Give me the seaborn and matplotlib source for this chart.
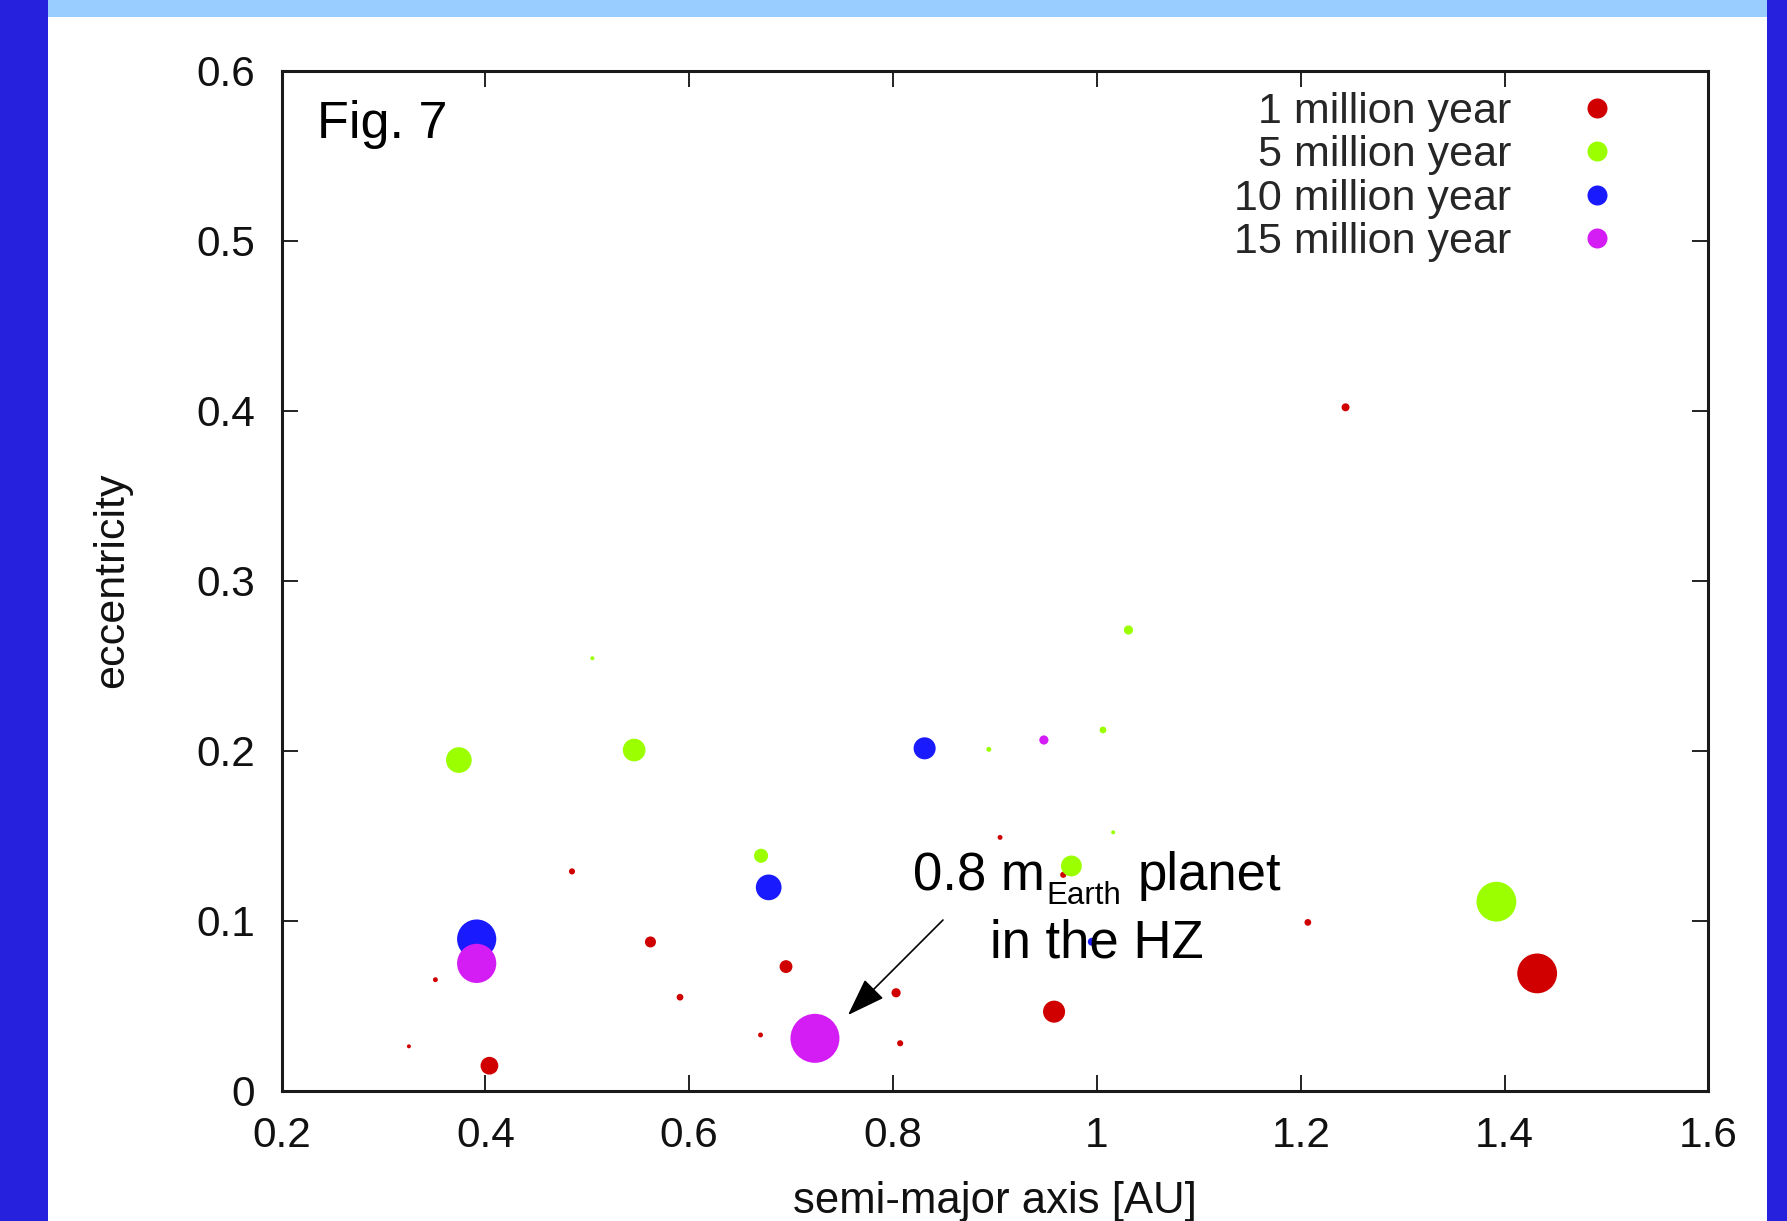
import numpy as np
import pandas as pd
import matplotlib
matplotlib.use("Agg")
import matplotlib.pyplot as plt
from matplotlib.lines import Line2D
from matplotlib.patches import Rectangle
from matplotlib.transforms import IdentityTransform
import seaborn as sns

# ---------------- data ----------------
series_labels = ["1 million year", "5 million year", "10 million year", "15 million year"]
series_colors = ["#D00000", "#9CFF00", "#1A1AFF", "#D41CF5"]

# 1 million year
a_1myr = [1.244, 0.905, 0.485, 0.562, 0.695, 1.207, 1.432, 0.958, 0.803, 0.591,
          0.351, 0.325, 0.404, 0.670, 0.807, 0.967]
e_1myr = [0.402, 0.149, 0.129, 0.0875, 0.073, 0.099, 0.069, 0.0465, 0.0576, 0.055,
          0.0653, 0.0261, 0.0147, 0.0328, 0.0279, 0.127]
m_1myr = [0.13, 0.08, 0.10, 0.18, 0.21, 0.11, 0.65, 0.36, 0.15, 0.11,
          0.08, 0.065, 0.29, 0.08, 0.10, 0.10]

# 5 million year
a_5myr = [0.374, 0.546, 0.505, 1.031, 1.006, 0.894, 1.016, 0.6705, 0.975, 1.392]
e_5myr = [0.1945, 0.2004, 0.2544, 0.271, 0.2122, 0.2008, 0.152, 0.1382, 0.1322, 0.1112]
m_5myr = [0.42, 0.37, 0.065, 0.15, 0.11, 0.08, 0.065, 0.23, 0.34, 0.65]

# 10 million year
a_10myr = [0.831, 0.678, 0.3915, 0.995]
e_10myr = [0.2014, 0.1196, 0.0892, 0.0876]
m_10myr = [0.36, 0.42, 0.64, 0.13]

# 15 million year
a_15myr = [0.948, 0.3915, 0.7234]
e_15myr = [0.2063, 0.0749, 0.0308]
m_15myr = [0.15, 0.64, 0.80]

x_ticks = [0.2, 0.4, 0.6, 0.8, 1.0, 1.2, 1.4, 1.6]
x_tick_labels = ["0.2", "0.4", "0.6", "0.8", "1", "1.2", "1.4", "1.6"]
y_ticks = [0.0, 0.1, 0.2, 0.3, 0.4, 0.5, 0.6]
y_tick_labels = ["0", "0.1", "0.2", "0.3", "0.4", "0.5", "0.6"]

# ---------------- build table ----------------
frames = []
for lab, a, e, m in zip(series_labels,
                        [a_1myr, a_5myr, a_10myr, a_15myr],
                        [e_1myr, e_5myr, e_10myr, e_15myr],
                        [m_1myr, m_5myr, m_10myr, m_15myr]):
    frames.append(pd.DataFrame({"a": a, "e": e, "mass": m, "epoch": lab}))
df = pd.concat(frames, ignore_index=True)

palette = dict(zip(series_labels, series_colors))
# marker diameter proportional to mass
def marker_area(m):
    return (m / 0.8 * 49 * 0.72) ** 2
size_map = {m: marker_area(m) for m in sorted(df["mass"].unique())}

# ---------------- style ----------------
sns.set_style("ticks")
plt.rcParams["font.family"] = ["Liberation Sans", "DejaVu Sans"]

W, H = 1787, 1221
fig = plt.figure(figsize=(W / 100, H / 100), dpi=100, facecolor="white")

# slide decorations
fig.add_artist(Rectangle((0, 0), 48 / W, 1, transform=fig.transFigure,
                         facecolor="#2521DD", edgecolor="none", zorder=-5))
fig.add_artist(Rectangle((1767 / W, 0), 1 - 1767 / W, 1, transform=fig.transFigure,
                         facecolor="#2521DD", edgecolor="none", zorder=-5))
fig.add_artist(Rectangle((48 / W, 1 - 17 / H), (1767 - 48) / W, 17 / H,
                         transform=fig.transFigure, facecolor="#99CCFF",
                         edgecolor="none", zorder=-5))

ax_l, ax_r, ax_t, ax_b = 281.5, 1708.4, 70.7, 1090.7
ax = fig.add_axes([ax_l / W, 1 - ax_b / H, (ax_r - ax_l) / W, (ax_b - ax_t) / H])

sns.scatterplot(data=df, x="a", y="e", hue="epoch", hue_order=series_labels,
                palette=palette, size="mass", sizes=size_map, legend=False,
                linewidth=0, edgecolor="none", alpha=1, ax=ax, zorder=3)

ax.set_xlim(0.2, 1.6)
ax.set_ylim(0.0, 0.6)
ax.set_xticks(x_ticks)
ax.set_xticklabels(x_tick_labels)
ax.set_yticks(y_ticks)
ax.set_yticklabels(y_tick_labels)
ax.tick_params(axis="both", direction="in", length=11.5, width=1.4,
               top=True, right=True, labelsize=30.5, color="#222222",
               labelcolor="#111111")
ax.tick_params(axis="x", pad=18)
ax.tick_params(axis="y", pad=19)
for sp in ax.spines.values():
    sp.set_linewidth(2.2)
    sp.set_color("#1a1a1a")

ax.set_xlabel("semi-major axis [AU]", fontsize=31.5, color="#111111")
ax.xaxis.set_label_coords(0.5, -0.0885)
ax.set_ylabel("eccentricity", fontsize=31, color="#111111")
ax.yaxis.set_label_coords(-0.1048, 0.5)

# figure tag
ax.text(0.0249, 0.934, "Fig. 7", transform=ax.transAxes, fontsize=37.5,
        ha="left", va="baseline", color="black")

# annotation arrow
ax.annotate("", xy=(0.7558, 0.0445), xytext=(0.849, 0.1004),
            arrowprops=dict(arrowstyle="-|>,head_length=0.8,head_width=0.28",
                            mutation_scale=30, lw=1.2, color="black",
                            shrinkA=0, shrinkB=0), zorder=6)

# annotation text: "0.8 m_Earth planet" with a small lowered subscript
renderer = fig.canvas.get_renderer()
fs_main, fs_sub = 38, 22.5
parts = [("0.8 m", fs_main, 0.0), ("Earth", fs_sub, -14.0), ("planet", fs_main, 0.0)]
gaps = [2.0, 16.0]
tmp = []
widths = []
for s, fs, dy in parts:
    t = ax.text(0, 0, s, fontsize=fs, transform=IdentityTransform(),
                ha="left", va="baseline", color="black", zorder=7)
    widths.append(t.get_window_extent(renderer).width)
    tmp.append(t)
total = sum(widths) + sum(gaps)
cx, cy = ax.transData.transform((1.0, 0.118))
x0 = cx - total / 2
for i, (t, (s, fs, dy)) in enumerate(zip(tmp, parts)):
    t.set_position((x0, cy + dy))
    x0 += widths[i] + (gaps[i] if i < len(gaps) else 0)

ax.text(1.0, 0.0786, "in the HZ", fontsize=38, ha="center", va="baseline",
        color="black", zorder=7)

# legend
handles = [Line2D([], [], marker="o", ls="", markersize=14.4,
                  markerfacecolor=c, markeredgewidth=0) for c in series_colors]
ax.legend(handles, series_labels, loc="upper right",
          bbox_to_anchor=(1619 / W, 1 - 92 / H), bbox_transform=fig.transFigure,
          frameon=False, markerfirst=False, fontsize=31, handlelength=1.0,
          handletextpad=1.5, labelspacing=0.08, borderpad=0, borderaxespad=0)

fig.savefig("out.png", dpi=100, facecolor="white")
